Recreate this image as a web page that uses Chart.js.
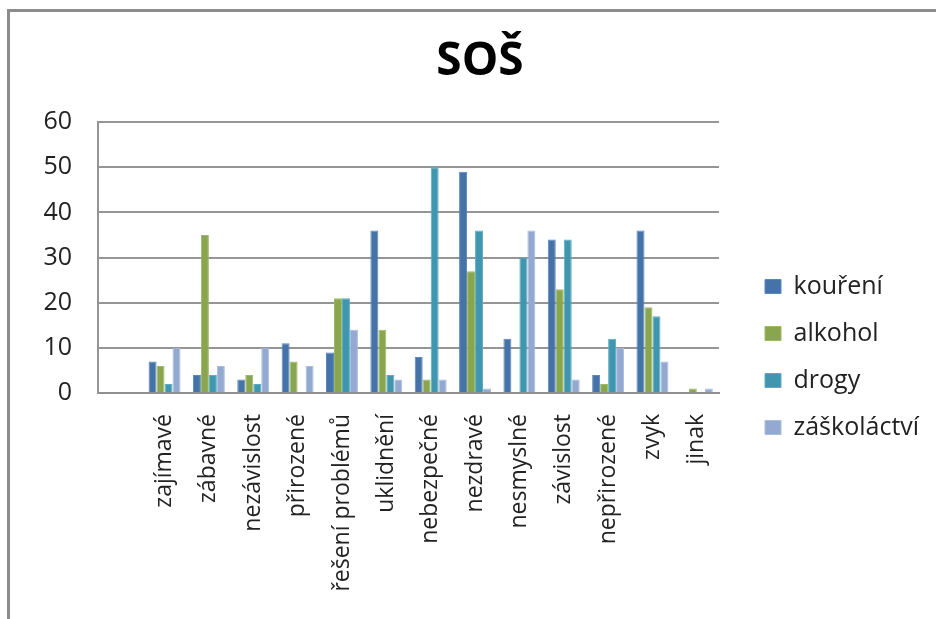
<!DOCTYPE html>
<html>
<head>
<meta charset="utf-8">
<script src="https://cdn.jsdelivr.net/npm/chart.js@4.4.1/dist/chart.umd.min.js"></script>
<style>
  html, body { margin: 0; padding: 0; background: #fff; }
  #wrap { position: relative; width: 936px; height: 619px; overflow: hidden; }
  #frame {
    position: absolute; left: 7px; top: 9px; width: 1000px; height: 700px;
    border-left: 3px solid #8c8c8c; border-top: 3px solid #8c8c8c;
    pointer-events: none;
  }
  canvas { position: absolute; left: 0; top: 0; }
</style>
</head>
<body>
<div id="wrap">
  <canvas id="chart" width="936" height="619"></canvas>
  <div id="frame"></div>
</div>
<script>
// categories (first slot is left empty on purpose)
const categories = ['', 'zajímavé', 'zábavné', 'nezávislost', 'přirozené', 'řešení problémů', 'uklidnění',
  'nebezpečné', 'nezdravé', 'nesmyslné', 'závislost', 'nepřirozené', 'zvyk', 'jinak'];

const koureni     = [null, 7, 4, 3, 11, 9, 36, 8, 49, 12, 34, 4, 36, 0];
const alkohol     = [null, 6, 35, 4, 7, 21, 14, 3, 27, 0, 23, 2, 19, 1];
const drogy       = [null, 2, 4, 2, 0, 21, 4, 50, 36, 30, 34, 12, 17, 0];
const zaskolactvi = [null, 10, 6, 10, 6, 14, 3, 3, 1, 36, 3, 10, 7, 1];

const yTicks = [0, 10, 20, 30, 40, 50, 60];

const FONT = '"Open Sans", sans-serif';
const LEGEND_WIDTH = 217;   // space reserved right of the plot
const LEGEND_SHIFT = 24;    // gap between plot and legend boxes
const LEGEND_TOP = 252;

// legend sits in a fixed-width column to the right, a bit lower than centre
const legendPlace = {
  id: 'legendPlace',
  beforeLayout(chart) {
    const lg = chart.legend;
    if (lg && !lg._placed) {
      lg._placed = true;
      const baseFit = lg.fit;
      lg.fit = function () {
        baseFit.call(this);
        this.width = LEGEND_WIDTH;
      };
    }
  },
  afterLayout(chart) {
    const lg = chart.legend;
    if (!lg) return;
    lg.left += LEGEND_SHIFT;
    const h = lg.bottom - lg.top;
    lg.top = LEGEND_TOP;
    lg.bottom = LEGEND_TOP + h;
  }
};

function mkSet(label, data, color, edge) {
  return {
    label: label,
    data: data,
    backgroundColor: color,
    borderColor: edge,
    borderWidth: 1,
    categoryPercentage: 0.72,
    barPercentage: 1.0
  };
}

new Chart(document.getElementById('chart'), {
  type: 'bar',
  data: {
    labels: categories,
    datasets: [
      mkSet('kouření', koureni, '#4572A7', '#5a86bb'),
      mkSet('alkohol', alkohol, '#89A54E', '#9dba62'),
      mkSet('drogy', drogy, '#3F96AE', '#5aaec4'),
      mkSet('záškoláctví', zaskolactvi, '#93A9CF', '#aabde0')
    ]
  },
  options: {
    responsive: false,
    animation: false,
    layout: { padding: { left: 24, right: 0, top: 0, bottom: 0 } },
    plugins: {
      title: {
        display: true,
        text: 'SOŠ',
        color: '#000',
        font: { family: FONT, size: 46, weight: 'bold' },
        padding: { top: 34, bottom: 33 }
      },
      legend: {
        position: 'right',
        align: 'start',
        labels: {
          color: '#222',
          font: { family: FONT, size: 25 },
          boxWidth: 16,
          boxHeight: 14,
          padding: 22
        }
      },
      tooltip: { enabled: false }
    },
    scales: {
      x: {
        grid: { display: false, drawTicks: false },
        border: { display: true, color: '#8f8f8f', width: 2 },
        ticks: {
          color: '#222',
          font: { family: FONT, size: 23 },
          minRotation: 90,
          maxRotation: 90,
          autoSkip: false,
          padding: 21
        },
        afterFit: s => { s.height = 226; }
      },
      y: {
        min: 0,
        max: 60,
        afterBuildTicks: s => { s.ticks = yTicks.map(v => ({ value: v })); },
        grid: { color: '#959595', lineWidth: 2, drawTicks: false },
        border: { display: true, color: '#959595', width: 2 },
        ticks: {
          color: '#222',
          font: { family: FONT, size: 25 },
          padding: 26
        },
        afterFit: s => { s.width = 74; }
      }
    }
  },
  plugins: [legendPlace]
});
</script>
</body>
</html>
